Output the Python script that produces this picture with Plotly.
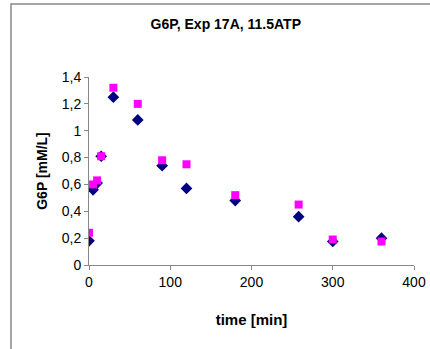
import plotly.graph_objects as go

# Sampling times [min]
time_min = [0, 5, 10, 15, 30, 60, 90, 120, 180, 258, 300, 360]

# G6P concentration [mM/L], two measurement series
g6p_series_a = [0.18, 0.56, 0.61, 0.81, 1.25, 1.08, 0.74, 0.57, 0.48, 0.36, 0.175, 0.20]
g6p_series_b = [0.24, 0.60, 0.63, 0.81, 1.32, 1.20, 0.78, 0.75, 0.52, 0.45, 0.19, 0.175]

font_family = "Liberation Sans, Arial, sans-serif"

fig = go.Figure()
fig.add_trace(go.Scatter(
    x=time_min, y=g6p_series_a, mode="markers",
    marker=dict(symbol="diamond", size=9, color="#000080", line=dict(width=0)),
    showlegend=False,
))
fig.add_trace(go.Scatter(
    x=time_min, y=g6p_series_b, mode="markers",
    marker=dict(symbol="square", size=8, color="#FF00FF", line=dict(width=0)),
    showlegend=False,
))

axis_common = dict(
    showgrid=False, zeroline=False, showline=True, automargin=False,
    linecolor="#888888", linewidth=1,
    ticks="outside", ticklen=4, tickcolor="#888888",
    tickfont=dict(family=font_family, size=14, color="#000000"),
)

fig.update_layout(
    width=430, height=349,
    margin=dict(l=89, r=16, t=77, b=84, autoexpand=False),
    paper_bgcolor="white", plot_bgcolor="white",
    separators=", ",
    title=dict(
        text="<b>G6P, Exp 17A, 11.5ATP</b>",
        font=dict(family=font_family, size=14, color="#000000"),
        x=0.525, xanchor="center", y=0.932, yanchor="middle",
    ),
    xaxis=dict(
        range=[0, 400], tickvals=[0, 100, 200, 300, 400],
        title=dict(text="<b>time [min]</b>", font=dict(family=font_family, size=15, color="#000000"), standoff=25),
        **axis_common,
    ),
    yaxis=dict(
        range=[0, 1.4], tickvals=[0, 0.2, 0.4, 0.6, 0.8, 1.0, 1.2, 1.4],
        title=dict(text="<b>G6P [mM/L]</b>", font=dict(family=font_family, size=14, color="#000000"), standoff=10),
        **axis_common,
    ),
)

# Outer chart frame (top and left edges visible)
fig.add_shape(type="rect", xref="paper", yref="paper",
              x0=-78 / 325, x1=1.2, y0=-0.6, y1=(349 - 4 - 84) / 188,
              line=dict(color="#888888", width=1.5), layer="below")

fig.write_html("out.html")
